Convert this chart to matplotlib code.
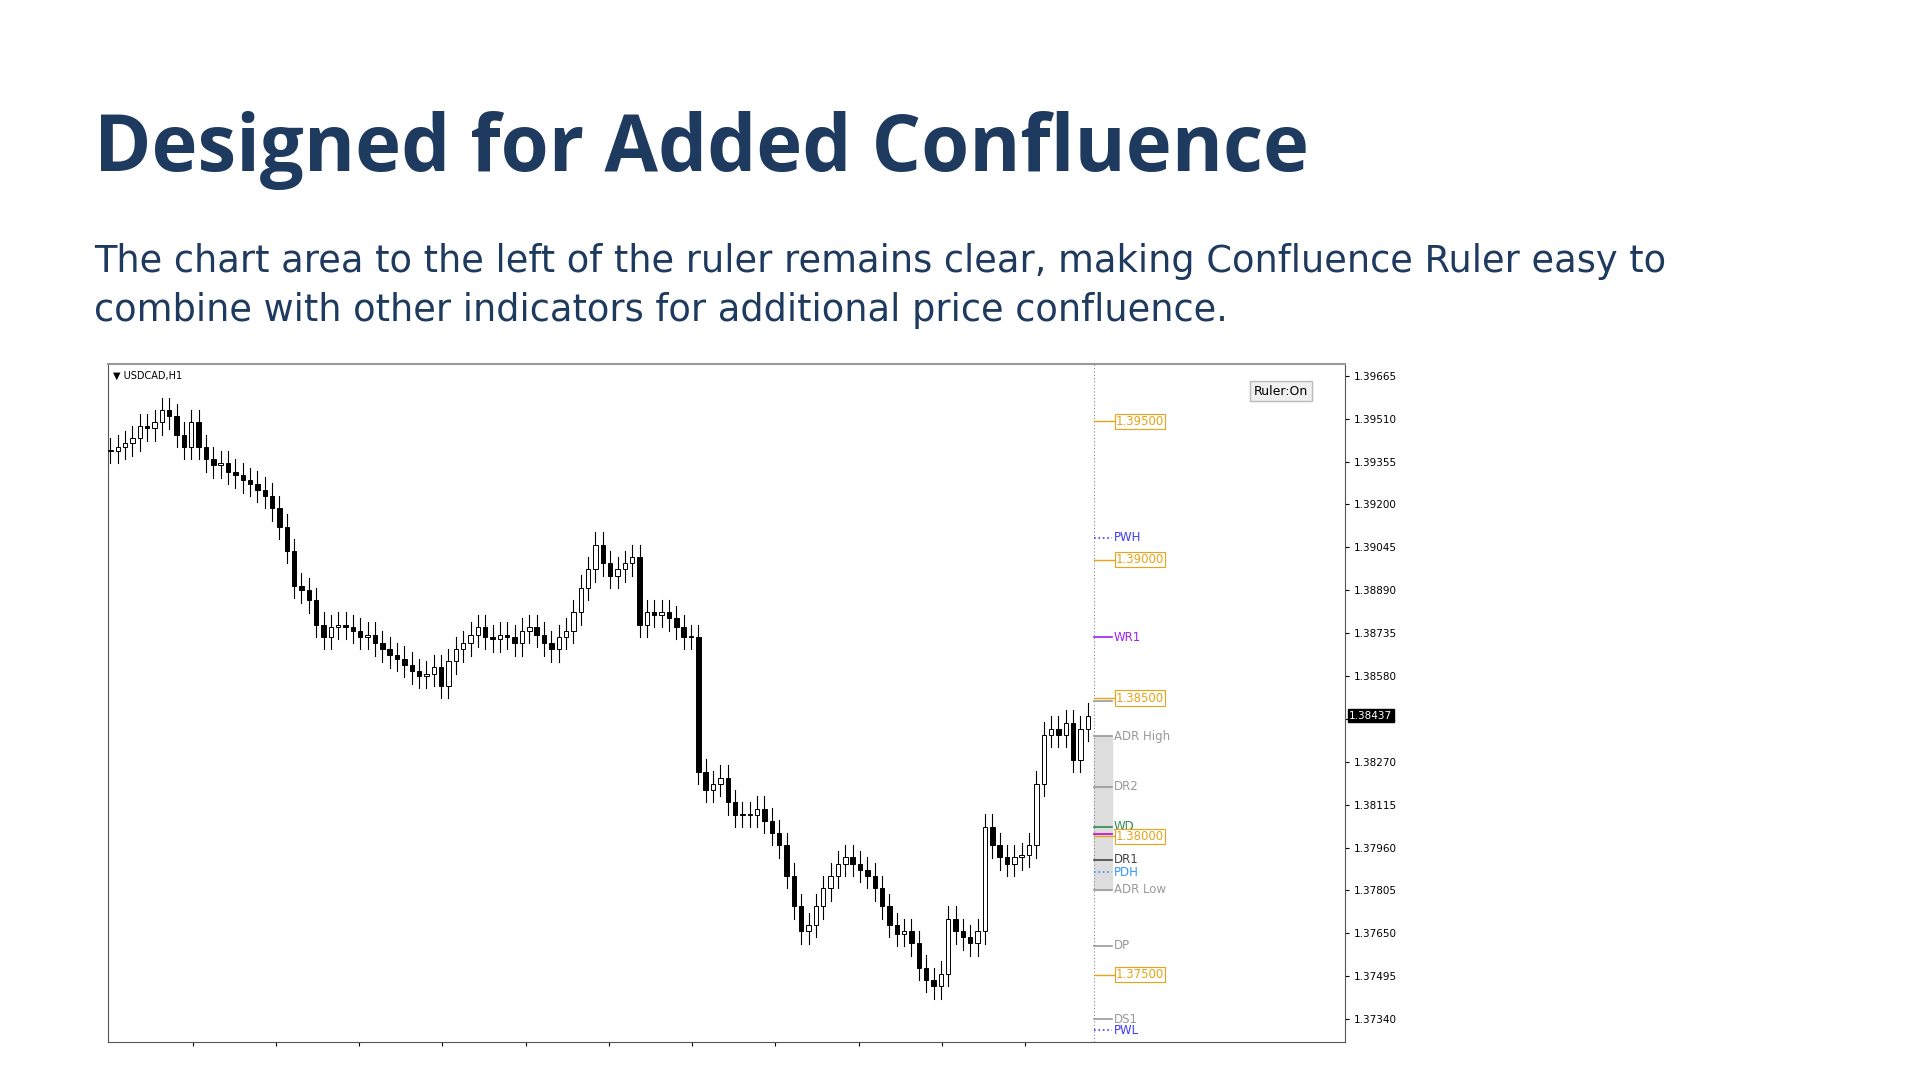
import matplotlib.pyplot as plt
from matplotlib.patches import Rectangle

# Colours and texts of the slide
NAVY = "#1f3a5f"
ORANGE = "#e8a317"
TITLE = "Designed for Added Confluence"
SUBTITLE = ("The chart area to the left of the ruler remains clear, making Confluence Ruler easy to\n"
            "combine with other indicators for additional price confluence.")

# USDCAD H1 closes
CLOSES = [1.39395, 1.39408, 1.39421, 1.39439, 1.39483, 1.39475, 1.39497, 1.39541, 1.39519, 1.39452,
          1.39408, 1.39497, 1.39408, 1.39364, 1.39342, 1.39350, 1.39319, 1.39306, 1.39288, 1.39275,
          1.39253, 1.39231, 1.39187, 1.39120, 1.39032, 1.38907, 1.38890, 1.38854, 1.38766, 1.38721,
          1.38757, 1.38766, 1.38757, 1.38744, 1.38721, 1.38730, 1.38699, 1.38677, 1.38655, 1.38642,
          1.38620, 1.38597, 1.38580, 1.38589, 1.38611, 1.38544, 1.38633, 1.38677, 1.38699, 1.38730,
          1.38757, 1.38721, 1.38713, 1.38730, 1.38721, 1.38699, 1.38744, 1.38757, 1.38730, 1.38699,
          1.38677, 1.38721, 1.38744, 1.38810, 1.38899, 1.38965, 1.39054, 1.38987, 1.38943, 1.38965,
          1.38987, 1.39009, 1.38766, 1.38810, 1.38801, 1.38810, 1.38788, 1.38757, 1.38721, 1.38721,
          1.38234, 1.38168, 1.38190, 1.38212, 1.38123, 1.38079, 1.38079, 1.38079, 1.38101, 1.38057,
          1.38013, 1.37968, 1.37858, 1.37747, 1.37658, 1.37680, 1.37747, 1.37813, 1.37858, 1.37902,
          1.37924, 1.37902, 1.37880, 1.37858, 1.37813, 1.37747, 1.37680, 1.37649, 1.37658, 1.37614,
          1.37525, 1.37481, 1.37459, 1.37503, 1.37703, 1.37658, 1.37636, 1.37614, 1.37658, 1.38035,
          1.37968, 1.37924, 1.37902, 1.37924, 1.37933, 1.37968, 1.38190, 1.38367, 1.38389, 1.38367,
          1.38411, 1.38278, 1.38389, 1.38437]
WICK = 0.00045

# Ruler levels: (name, price, colour, linestyle)
LEVELS = [("PWH", 1.39080, "#3b3bff", ":"),
          ("WR1", 1.38720, "#a020f0", "-"),
          ("DR3", 1.38490, "#999999", "-"),
          ("ADR High", 1.38362, "#999999", "-"),
          ("DR2", 1.38180, "#999999", "-"),
          ("WD", 1.38035, "#2e8b57", "-"),
          ("WP", 1.38008, "#cc00cc", "-"),
          ("DR1", 1.37915, "#444444", "-"),
          ("PDH", 1.37870, "#3399ff", ":"),
          ("ADR Low", 1.37808, "#999999", "-"),
          ("DP", 1.37605, "#999999", "-"),
          ("DS1", 1.37340, "#999999", "-"),
          ("PWL", 1.37300, "#3b3bff", ":")]
ROUND_LEVELS = [1.39500, 1.39000, 1.38500, 1.38000, 1.37500]


def draw_candles(ax):
    opens = [CLOSES[0]] + CLOSES[:-1]
    for i, (o, c) in enumerate(zip(opens, CLOSES)):
        hi, lo = max(o, c) + WICK, min(o, c) - WICK
        ax.plot([i, i], [lo, hi], color="black", lw=0.8, zorder=2)
        face = "white" if c >= o else "black"
        ax.add_patch(Rectangle((i - 0.3, min(o, c)), 0.6, max(abs(c - o), 0.00003),
                               facecolor=face, edgecolor="black", lw=0.7, zorder=3))


def draw_ruler(ax, x0):
    ax.axvline(x0, color="#888888", lw=0.8, ls=(0, (1, 2)), zorder=1)
    ax.add_patch(Rectangle((x0, 1.37808), 2.5, 1.38362 - 1.37808, color="#dddddd", zorder=0))
    for name, price, col, ls in LEVELS:
        ax.plot([x0, x0 + 2.5], [price, price], color=col, ls=ls, lw=1.2, zorder=4)
        ax.text(x0 + 2.7, price, name, color=col, fontsize=8.5, va="center", zorder=5)
    for price in ROUND_LEVELS:
        ax.plot([x0, x0 + 2.9], [price, price], color=ORANGE, lw=1.0, zorder=4)
        ax.text(x0 + 3.0, price, f"{price:.5f}", color=ORANGE, fontsize=8.5, va="center", zorder=5,
                bbox=dict(boxstyle="square,pad=0.1", fc="white", ec=ORANGE, lw=0.8))


def main():
    fig = plt.figure(figsize=(19.2, 10.8), dpi=100)
    fig.text(0.049, 0.842, TITLE, fontsize=56, fontweight="bold", color=NAVY, family="Open Sans")
    fig.text(0.049, 0.703, SUBTITLE, fontsize=26.5, color=NAVY, family="DejaVu Sans", linespacing=1.42)

    ax = fig.add_axes([0.05625, 0.0352, 0.6443, 0.6278])
    n = len(CLOSES)
    draw_candles(ax)
    ruler_x = n - 0.2
    draw_ruler(ax, ruler_x)

    ax.set_xlim(-0.33, n - 1 + 35)
    ax.set_ylim(1.37257, 1.39708)
    ax.yaxis.tick_right()
    ax.set_yticks([1.39665 - 0.00155 * k for k in range(16)])
    ax.yaxis.set_major_formatter(plt.FormatStrFormatter("%.5f"))
    ax.tick_params(axis="y", labelsize=7.5, length=3)
    ax.set_xticks([11.17 + 11.33 * k for k in range(11)])
    ax.set_xticklabels([])
    ax.tick_params(axis="x", length=3)
    for sp in ax.spines.values():
        sp.set_color("#555555")
    ax.spines["top"].set_color("#999999")
    ax.spines["top"].set_linewidth(1.5)

    ax.text(0.004, 0.99, "\u25bc USDCAD,H1", transform=ax.transAxes, fontsize=7, va="top")
    ax.text(0.97, 0.96, "Ruler:On", transform=ax.transAxes, fontsize=9, ha="right", va="center",
            bbox=dict(boxstyle="square,pad=0.3", fc="#f0f0f0", ec="#bbbbbb"))
    ax.annotate("1.38437", xy=(1.0, CLOSES[-1]), xycoords=("axes fraction", "data"),
                xytext=(3, 0), textcoords="offset points", fontsize=7.5, color="white",
                va="center", annotation_clip=False,
                bbox=dict(boxstyle="square,pad=0.15", fc="black", ec="black"))

    fig.savefig("out.png")


if __name__ == "__main__":
    main()
